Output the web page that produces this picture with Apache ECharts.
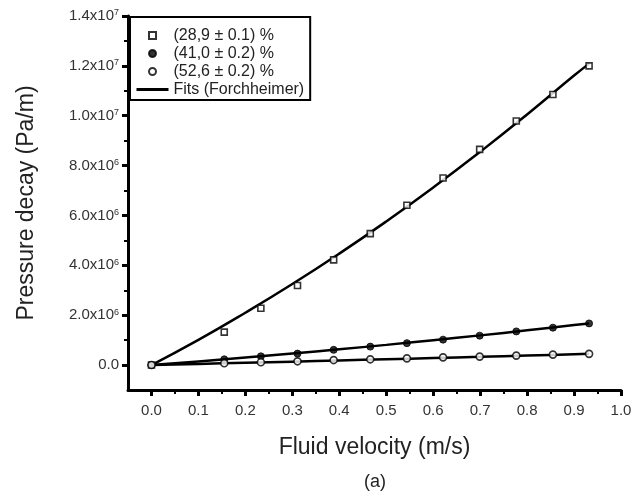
<!DOCTYPE html>
<html>
<head>
<meta charset="utf-8">
<script src="https://cdn.jsdelivr.net/npm/echarts@6/dist/echarts.min.js"></script>
<style>
  html, body { margin: 0; padding: 0; background: #fff; }
  #pressure_chart { width: 642px; height: 495px; }
</style>
</head>
<body>
<div id="pressure_chart"></div>
<script>
//*************** data ***************
var velocity = [0, 0.155, 0.233, 0.311, 0.388, 0.466, 0.544, 0.621, 0.699, 0.777, 0.855, 0.932];
var porosity_28 = [0, 1.32e6, 2.28e6, 3.19e6, 4.22e6, 5.27e6, 6.41e6, 7.50e6, 8.65e6, 9.79e6, 10.85e6, 12.0e6];
var porosity_41 = [0, 0.23e6, 0.35e6, 0.46e6, 0.61e6, 0.74e6, 0.88e6, 1.02e6, 1.18e6, 1.35e6, 1.50e6, 1.67e6];
var porosity_52 = [0, 0.07e6, 0.11e6, 0.15e6, 0.20e6, 0.23e6, 0.27e6, 0.31e6, 0.34e6, 0.38e6, 0.42e6, 0.45e6];

// fit curves
var fit_velocity = [0, 0.1, 0.2, 0.3, 0.4, 0.5, 0.6, 0.7, 0.8, 0.9, 0.932];
var fit_28 = [0, 1.01e6, 2.10e6, 3.25e6, 4.47e6, 5.76e6, 7.12e6, 8.55e6, 10.05e6, 11.61e6, 12.09e6];
var fit_41 = [0, 0.146e6, 0.300e6, 0.462e6, 0.632e6, 0.81e6, 0.997e6, 1.191e6, 1.393e6, 1.603e6, 1.668e6];
var fit_52 = [0, 0.045e6, 0.091e6, 0.137e6, 0.185e6, 0.233e6, 0.282e6, 0.332e6, 0.383e6, 0.434e6, 0.45e6];

var series_names = ['(28,9 ± 0.1) %', '(41,0 ± 0.2) %', '(52,6 ± 0.2) %', 'Fits (Forchheimer)'];

// ticks
var x_ticks = [0, 0.1, 0.2, 0.3, 0.4, 0.5, 0.6, 0.7, 0.8, 0.9, 1.0];
var x_minor_ticks = [0.05, 0.15, 0.25, 0.35, 0.45, 0.55, 0.65, 0.75, 0.85, 0.95];
var y_ticks = [0, 2e6, 4e6, 6e6, 8e6, 1e7, 1.2e7, 1.4e7];
var y_tick_labels = ['0.0', '2.0x10{sup|6}', '4.0x10{sup|6}', '6.0x10{sup|6}', '8.0x10{sup|6}',
                     '1.0x10{sup|7}', '1.2x10{sup|7}', '1.4x10{sup|7}'];
var y_minor_ticks = [1e6, 3e6, 5e6, 7e6, 9e6, 1.1e7, 1.3e7];

function pairs(xs, ys) {
    return xs.map(function (x, i) { return [x, ys[i]]; });
}

//*************** chart ***************
var pressure_chart = echarts.init(document.getElementById('pressure_chart'));

var axis_color = '#000';
var label_color = '#333';
var font = 'Liberation Sans, Arial, sans-serif';

var fit_line = {
    type: 'line',
    name: series_names[3],
    smooth: true,
    symbol: 'none',
    z: 2,
    lineStyle: {color: '#000', width: 2.5},
    itemStyle: {color: '#000'}
};

pressure_chart.setOption({
    animation: false,
    textStyle: {fontFamily: font},
    grid: {left: 128, right: 21, top: 16, bottom: 105},
    legend: {
        data: [
            {name: series_names[0], icon: 'path://M0,0H10V10H0Z'},
            series_names[1],
            series_names[2],
            {name: series_names[3], itemStyle: {opacity: 0}, lineStyle: {width: 3, color: '#000'}}
        ],
        orient: 'vertical',
        left: 130,
        top: 17,
        padding: [10, 6, 2, 5],
        itemWidth: 32,
        itemHeight: 7,
        itemGap: 1,
        itemTextGap: 5,
        symbolKeepAspect: true,
        backgroundColor: '#fff',
        borderColor: '#000',
        borderWidth: 2,
        borderRadius: 0,
        textStyle: {fontSize: 16, color: '#222', lineHeight: 17, fontFamily: font}
    },
    xAxis: [
        {
            type: 'value',
            min: -0.05,
            max: 1.0,
            name: 'Fluid velocity (m/s)',
            nameLocation: 'middle',
            nameGap: 46,
            nameTextStyle: {fontSize: 23, color: '#222'},
            splitLine: {show: false},
            axisLine: {onZero: false, lineStyle: {color: axis_color, width: 3}},
            axisTick: {customValues: x_ticks, length: 6, lineStyle: {color: axis_color, width: 3}},
            axisLabel: {
                customValues: x_ticks,
                margin: 13,
                fontSize: 15,
                color: label_color,
                formatter: function (v) { return v.toFixed(1); }
            }
        },
        {
            type: 'value',
            min: -0.05,
            max: 1.0,
            position: 'bottom',
            axisLine: {show: false, onZero: false},
            splitLine: {show: false},
            axisLabel: {show: false},
            axisTick: {customValues: x_minor_ticks, length: 4, lineStyle: {color: axis_color, width: 2}}
        }
    ],
    yAxis: [
        {
            type: 'value',
            min: -1e6,
            max: 1.4e7,
            name: 'Pressure decay (Pa/m)',
            nameLocation: 'middle',
            nameGap: 90,
            nameTextStyle: {fontSize: 23, color: '#222'},
            splitLine: {show: false},
            axisLine: {onZero: false, lineStyle: {color: axis_color, width: 3}},
            axisTick: {customValues: y_ticks, length: 6, lineStyle: {color: axis_color, width: 3}},
            axisLabel: {
                customValues: y_ticks,
                margin: 9,
                fontSize: 15,
                color: label_color,
                formatter: function (v) {
                    var i = y_ticks.indexOf(v);
                    return i >= 0 ? y_tick_labels[i] : '';
                },
                rich: {
                    sup: {fontSize: 9, color: label_color, verticalAlign: 'top', lineHeight: 14, padding: [0, 0, 6, 0]}
                }
            }
        },
        {
            type: 'value',
            min: -1e6,
            max: 1.4e7,
            position: 'left',
            axisLine: {show: false, onZero: false},
            splitLine: {show: false},
            axisLabel: {show: false},
            axisTick: {customValues: y_minor_ticks, length: 4, lineStyle: {color: axis_color, width: 2}}
        }
    ],
    series: [
        {
            type: 'scatter',
            name: series_names[0],
            symbol: 'rect',
            symbolSize: 6,
            symbolKeepAspect: true,
            z: 5,
            itemStyle: {color: '#fff', borderColor: '#000', borderWidth: 1.6},
            data: pairs(velocity, porosity_28)
        },
        {
            type: 'scatter',
            name: series_names[1],
            symbol: 'circle',
            symbolSize: 7,
            symbolKeepAspect: true,
            z: 5,
            itemStyle: {color: '#000', borderColor: '#000', borderWidth: 1},
            data: pairs(velocity, porosity_41)
        },
        {
            type: 'scatter',
            name: series_names[2],
            symbol: 'circle',
            symbolSize: 7,
            symbolKeepAspect: true,
            z: 6,
            itemStyle: {color: '#fff', borderColor: '#000', borderWidth: 1.6},
            data: pairs(velocity, porosity_52)
        },
        Object.assign({}, fit_line, {data: pairs(fit_velocity, fit_28)}),
        Object.assign({}, fit_line, {data: pairs(fit_velocity, fit_41)}),
        Object.assign({}, fit_line, {data: pairs(fit_velocity, fit_52)})
    ],
    graphic: [
        {
            type: 'text',
            left: 364,
            top: 473,
            style: {text: '(a)', fontSize: 18, fill: '#222', fontFamily: font}
        }
    ]
});
</script>
</body>
</html>
